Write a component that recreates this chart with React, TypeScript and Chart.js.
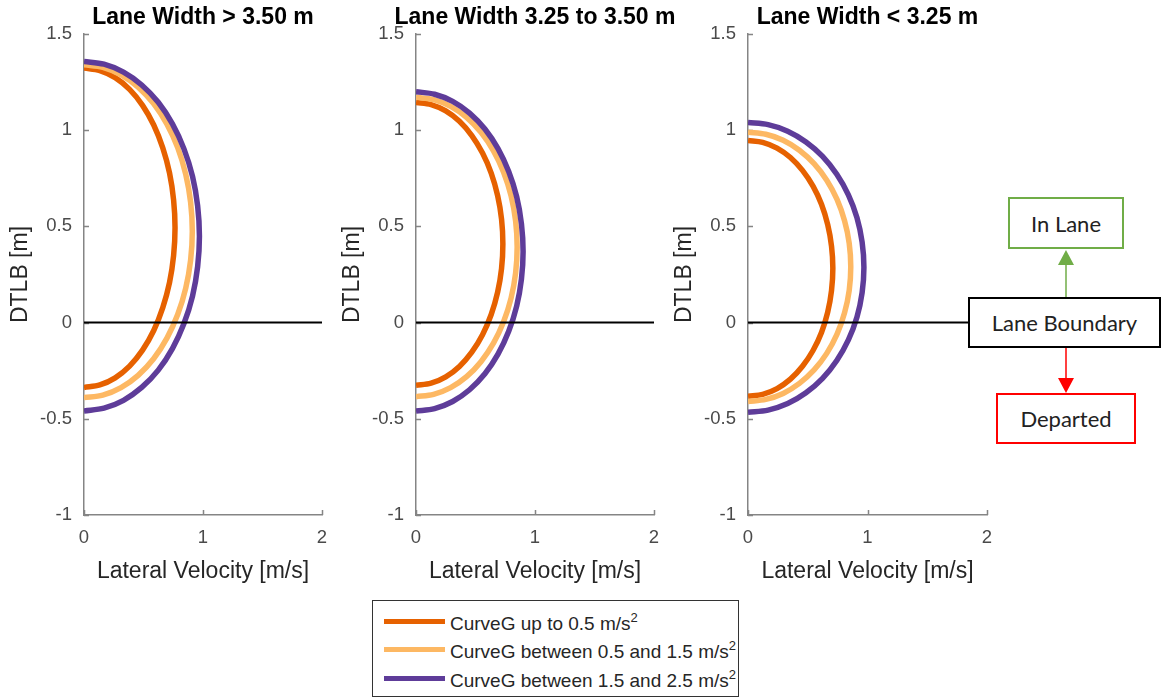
import React, { useEffect, useRef } from "react";
import { Chart, registerables } from "chart.js";

Chart.register(...registerables);

// ---- text ----
const PANEL_TITLES = ["Lane Width > 3.50 m", "Lane Width 3.25 to 3.50 m", "Lane Width < 3.25 m"];
const SERIES_LABELS = ["CurveG up to 0.5 m/s", "CurveG between 0.5 and 1.5 m/s", "CurveG between 1.5 and 2.5 m/s"];
const SERIES_COLORS = ["#E66100", "#FDB863", "#5E3C99"];
const X_TITLE = "Lateral Velocity [m/s]";
const Y_TITLE = "DTLB [m]";
const X_TICKS = [0, 1, 2];
const Y_TICKS = [-1, -0.5, 0, 0.5, 1, 1.5];
const BOUNDARY_VEL = [0, 2];
const BOUNDARY_DTLB = [0, 0];

// ---- Lane width > 3.50 m ----
const wideLowVel = [0, 0.133, 0.262, 0.383, 0.492, 0.586, 0.662, 0.719, 0.753, 0.765, 0.753, 0.719, 0.662, 0.586, 0.492, 0.383, 0.262, 0.133, 0];
const wideLowDtlb = [1.323, 1.31, 1.273, 1.212, 1.129, 1.027, 0.908, 0.777, 0.637, 0.493, 0.349, 0.209, 0.078, -0.041, -0.143, -0.226, -0.287, -0.324, -0.337];
const wideMidVel = [0, 0.158, 0.311, 0.455, 0.585, 0.697, 0.788, 0.855, 0.896, 0.91, 0.896, 0.855, 0.788, 0.697, 0.585, 0.455, 0.311, 0.158, 0];
const wideMidDtlb = [1.34, 1.327, 1.288, 1.224, 1.138, 1.031, 0.908, 0.771, 0.625, 0.475, 0.325, 0.179, 0.043, -0.081, -0.188, -0.274, -0.338, -0.377, -0.39];
const wideHighVel = [0, 0.168, 0.332, 0.485, 0.624, 0.743, 0.84, 0.912, 0.955, 0.97, 0.955, 0.912, 0.84, 0.743, 0.624, 0.485, 0.332, 0.168, 0];
const wideHighDtlb = [1.357, 1.343, 1.302, 1.235, 1.145, 1.033, 0.903, 0.76, 0.607, 0.449, 0.291, 0.138, -0.005, -0.135, -0.247, -0.337, -0.404, -0.445, -0.459];

// ---- Lane width 3.25 to 3.50 m ----
const mediumLowVel = [0, 0.127, 0.25, 0.365, 0.469, 0.559, 0.632, 0.686, 0.719, 0.73, 0.719, 0.686, 0.632, 0.559, 0.469, 0.365, 0.25, 0.127, 0];
const mediumLowDtlb = [1.144, 1.133, 1.1, 1.046, 0.972, 0.881, 0.777, 0.66, 0.537, 0.409, 0.281, 0.158, 0.042, -0.063, -0.154, -0.228, -0.282, -0.315, -0.326];
const mediumMidVel = [0, 0.148, 0.291, 0.425, 0.546, 0.651, 0.736, 0.799, 0.837, 0.85, 0.837, 0.799, 0.736, 0.651, 0.546, 0.425, 0.291, 0.148, 0];
const mediumMidDtlb = [1.171, 1.159, 1.124, 1.067, 0.989, 0.893, 0.782, 0.659, 0.528, 0.393, 0.258, 0.127, 0.004, -0.107, -0.203, -0.281, -0.338, -0.373, -0.385];
const mediumHighVel = [0, 0.156, 0.308, 0.45, 0.579, 0.689, 0.779, 0.846, 0.886, 0.9, 0.886, 0.846, 0.779, 0.689, 0.579, 0.45, 0.308, 0.156, 0];
const mediumHighDtlb = [1.2, 1.187, 1.15, 1.089, 1.006, 0.904, 0.785, 0.654, 0.514, 0.37, 0.226, 0.086, -0.045, -0.164, -0.266, -0.349, -0.41, -0.447, -0.46];

// ---- Lane width < 3.25 m ----
const narrowLowVel = [0, 0.123, 0.243, 0.355, 0.456, 0.544, 0.615, 0.667, 0.699, 0.71, 0.699, 0.667, 0.615, 0.544, 0.456, 0.355, 0.243, 0.123, 0];
const narrowLowDtlb = [0.947, 0.937, 0.907, 0.858, 0.791, 0.709, 0.615, 0.509, 0.397, 0.282, 0.167, 0.055, -0.051, -0.145, -0.227, -0.294, -0.343, -0.373, -0.383];
const narrowMidVel = [0, 0.149, 0.294, 0.43, 0.553, 0.659, 0.745, 0.808, 0.847, 0.86, 0.847, 0.808, 0.745, 0.659, 0.553, 0.43, 0.294, 0.149, 0];
const narrowMidDtlb = [0.99, 0.979, 0.948, 0.896, 0.826, 0.74, 0.64, 0.529, 0.412, 0.29, 0.168, 0.051, -0.06, -0.16, -0.246, -0.316, -0.368, -0.399, -0.41];
const narrowHighVel = [0, 0.168, 0.332, 0.485, 0.624, 0.743, 0.84, 0.912, 0.955, 0.97, 0.955, 0.912, 0.84, 0.743, 0.624, 0.485, 0.332, 0.168, 0];
const narrowHighDtlb = [1.04, 1.029, 0.995, 0.939, 0.864, 0.771, 0.664, 0.545, 0.418, 0.287, 0.156, 0.029, -0.09, -0.197, -0.29, -0.365, -0.421, -0.455, -0.466];

const PANEL_CURVES: [number[], number[]][][] = [
  [[wideLowVel, wideLowDtlb], [wideMidVel, wideMidDtlb], [wideHighVel, wideHighDtlb]],
  [[mediumLowVel, mediumLowDtlb], [mediumMidVel, mediumMidDtlb], [mediumHighVel, mediumHighDtlb]],
  [[narrowLowVel, narrowLowDtlb], [narrowMidVel, narrowMidDtlb], [narrowHighVel, narrowHighDtlb]],
];

// ---- layout ----
const FONT = "'Liberation Sans', Arial, Helvetica, sans-serif";
const AXIS_COLOR = "#858585";
const TICK_COLOR = "#4a4a4a";
const LABEL_COLOR = "#262626";
const CANVAS_H = 600;
const Y_AXIS_W = 84;
const X_AXIS_H = 70;
const PLOT_TOP = 34;
const PLOT_BOTTOM = 515;
const RIGHT_PAD = 30;
const PANEL_LEFT = [0, 332, 664];
const PLOT_W = [238, 238, 239];

const panelTitlePlugin = {
  id: "panelTitle",
  afterDraw(chart: any, _args: any, opts: any) {
    const { ctx, chartArea } = chart;
    ctx.save();
    ctx.font = `bold 23px ${FONT}`;
    ctx.fillStyle = "#000";
    ctx.textAlign = "center";
    ctx.textBaseline = "middle";
    ctx.fillText(opts.text, (chartArea.left + chartArea.right) / 2, 18);
    ctx.restore();
  },
};

// tick marks pointing into the plot area
const inwardTicksPlugin = {
  id: "inwardTicks",
  beforeDatasetsDraw(chart: any) {
    const { ctx, chartArea, scales } = chart;
    ctx.save();
    ctx.strokeStyle = AXIS_COLOR;
    ctx.lineWidth = 1.5;
    ctx.beginPath();
    for (const t of Y_TICKS) {
      const y = Math.round(scales.y.getPixelForValue(t)) + 0.5;
      ctx.moveTo(chartArea.left, y);
      ctx.lineTo(chartArea.left + 5, y);
    }
    for (const t of X_TICKS) {
      const x = Math.round(scales.x.getPixelForValue(t)) + 0.5;
      ctx.moveTo(x, chartArea.bottom);
      ctx.lineTo(x, chartArea.bottom - 5);
    }
    ctx.stroke();
    ctx.restore();
  },
};

function buildConfig(i: number): any {
  const curves = PANEL_CURVES[i];
  const curveSets = curves
    .map(([vel, dtlb], k) => ({
      label: SERIES_LABELS[k],
      data: vel.map((v, j) => ({ x: v, y: dtlb[j] })),
      borderColor: SERIES_COLORS[k],
      backgroundColor: SERIES_COLORS[k],
      borderWidth: 5.5,
      showLine: true,
      pointRadius: 0,
      tension: 0.33,
      fill: false,
      clip: 0,
    }))
    .reverse();
  return {
    type: "scatter",
    data: {
      datasets: [
        {
          label: "Lane Boundary",
          data: BOUNDARY_VEL.map((v, j) => ({ x: v, y: BOUNDARY_DTLB[j] })),
          borderColor: "#000",
          borderWidth: 2,
          showLine: true,
          pointRadius: 0,
          tension: 0,
          clip: 0,
        },
        ...curveSets,
      ],
    },
    options: {
      responsive: false,
      animation: false,
      events: [],
      layout: { padding: { top: PLOT_TOP, right: RIGHT_PAD, bottom: CANVAS_H - PLOT_BOTTOM - X_AXIS_H, left: 0 } },
      elements: { line: { capBezierPoints: false, borderCapStyle: "butt", borderJoinStyle: "round" } },
      plugins: {
        legend: { display: false },
        tooltip: { enabled: false },
        title: { display: false },
        panelTitle: { text: PANEL_TITLES[i] },
      },
      scales: {
        x: {
          type: "linear",
          min: 0,
          max: 2,
          ticks: {
            stepSize: 1,
            padding: 12,
            color: TICK_COLOR,
            font: { family: FONT, size: 18.5 },
            maxRotation: 0,
            callback: (v: number) => String(v),
          },
          grid: { display: false, drawTicks: false },
          border: { display: true, color: AXIS_COLOR, width: 1.5 },
          title: {
            display: true,
            text: X_TITLE,
            color: LABEL_COLOR,
            font: { family: FONT, size: 23 },
            padding: { top: 0, bottom: 0 },
          },
          afterFit: (s: any) => {
            s.height = X_AXIS_H;
          },
        },
        y: {
          type: "linear",
          min: -1,
          max: 1.5,
          ticks: {
            stepSize: 0.5,
            padding: 12,
            color: TICK_COLOR,
            font: { family: FONT, size: 18.5 },
            callback: (v: number) => String(v),
          },
          grid: { display: false, drawTicks: false },
          border: { display: true, color: AXIS_COLOR, width: 1.5 },
          title: {
            display: true,
            text: Y_TITLE,
            color: LABEL_COLOR,
            font: { family: FONT, size: 23 },
            padding: { top: 7, bottom: 0 },
          },
          afterFit: (s: any) => {
            s.width = Y_AXIS_W;
          },
        },
      },
    },
    plugins: [panelTitlePlugin, inwardTicksPlugin],
  };
}

function Panel({ index }: { index: number }) {
  const ref = useRef<HTMLCanvasElement>(null);
  const width = Y_AXIS_W + PLOT_W[index] + RIGHT_PAD;
  useEffect(() => {
    if (!ref.current) return;
    const chart = new Chart(ref.current, buildConfig(index));
    return () => chart.destroy();
  }, [index]);
  return (
    <canvas
      ref={ref}
      width={width}
      height={CANVAS_H}
      style={{ position: "absolute", left: PANEL_LEFT[index], top: 0, width, height: CANVAS_H }}
    />
  );
}

const LEGEND_ROWS_Y = [621, 649, 678];

function Legend() {
  return (
    <div
      style={{
        position: "absolute",
        left: 372,
        top: 600,
        width: 367,
        height: 97,
        border: "1px solid #333",
        boxSizing: "border-box",
        background: "#fff",
      }}
    >
      {SERIES_LABELS.map((label, k) => (
        <React.Fragment key={label}>
          <div
            style={{
              position: "absolute",
              left: 11,
              top: LEGEND_ROWS_Y[k] - 600 - 3,
              width: 61,
              height: 5,
              background: SERIES_COLORS[k],
            }}
          />
          <div
            style={{
              position: "absolute",
              left: 77,
              top: LEGEND_ROWS_Y[k] - 600 - 9,
              fontFamily: FONT,
              fontSize: 19,
              lineHeight: "22px",
              color: LABEL_COLOR,
              whiteSpace: "nowrap",
            }}
          >
            {label}
            <sup style={{ fontSize: 13, lineHeight: 0, verticalAlign: 8 }}>2</sup>
          </div>
        </React.Fragment>
      ))}
    </div>
  );
}

const NOTE_FONT = "Lato, Carlito, 'Open Sans', sans-serif";

function NoteBox({ left, top, width, height, color, text }: any) {
  return (
    <div
      style={{
        position: "absolute",
        left,
        top,
        width,
        height,
        border: `2px solid ${color}`,
        boxSizing: "border-box",
        background: "#fff",
        display: "flex",
        alignItems: "center",
        justifyContent: "center",
        fontFamily: NOTE_FONT,
        fontSize: 22,
        color: "#222",
        whiteSpace: "nowrap",
      }}
    >
      {text}
    </div>
  );
}

function Annotations() {
  return (
    <>
      <svg
        width={1161}
        height={698}
        style={{ position: "absolute", left: 0, top: 0, pointerEvents: "none" }}
      >
        <line x1={1066} y1={264} x2={1066} y2={298} stroke="#70AD47" strokeWidth={1.5} />
        <polygon points="1066,250 1058,265 1074,265" fill="#70AD47" />
        <line x1={1066} y1={347} x2={1066} y2={380} stroke="#FF0000" strokeWidth={1.5} />
        <polygon points="1066,393 1058,378 1074,378" fill="#FF0000" />
      </svg>
      <NoteBox left={1008} top={197} width={116} height={52} color="#70AD47" text="In Lane" />
      <NoteBox left={968} top={297} width={193} height={51} color="#000" text="Lane Boundary" />
      <NoteBox left={996} top={393} width={140} height={51} color="#FF0000" text="Departed" />
    </>
  );
}

export default function App() {
  return (
    <div
      style={{
        position: "absolute",
        left: 0,
        top: 0,
        width: 1161,
        height: 698,
        background: "#fff",
        overflow: "hidden",
      }}
    >
      {[0, 1, 2].map((i) => (
        <Panel key={i} index={i} />
      ))}
      <Legend />
      <Annotations />
    </div>
  );
}
